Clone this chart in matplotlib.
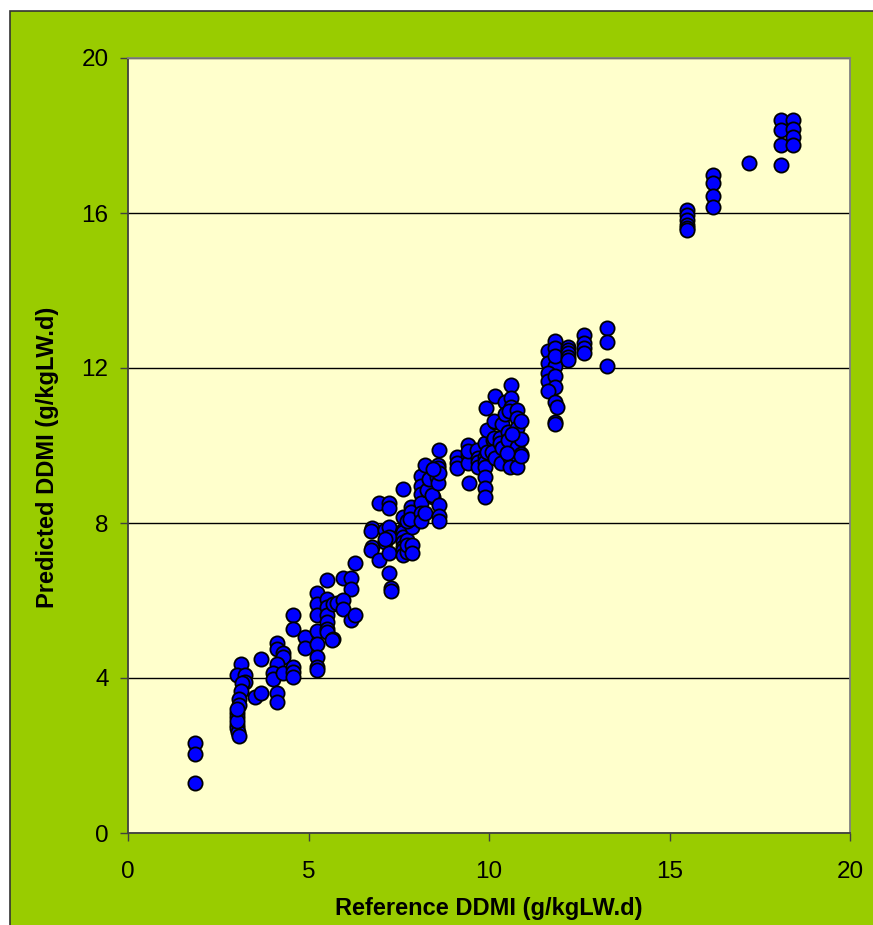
#!/usr/bin/env python3

import numpy as np
import matplotlib.pyplot as plt
from matplotlib.patches import Rectangle

plt.rcParams.update({"font.family": ["Liberation Sans", "DejaVu Sans"]})

# Reference vs predicted daily digestible dry matter intake, grouped by
# reference level (one line per cluster)
reference = [
    1.86, 1.86, 1.86,
    3.13, 3.02, 3.24, 3.24, 3.16, 3.13, 3.08, 3.08, 3.02, 3.02, 3.02, 3.02, 3.05, 3.08, 3.02, 3.02,
    3.68, 3.51, 3.68,
    4.13, 4.13, 4.29, 4.29, 4.13, 4.02, 4.02, 4.29, 4.13, 4.13,
    4.57, 4.57, 4.57, 4.57, 4.57,
    4.90, 4.90,
    5.23, 5.23, 5.23, 5.23, 5.23, 5.23, 5.23, 5.23,
    5.50, 5.50, 5.50, 5.50, 5.50, 5.50, 5.50, 5.68, 5.64, 5.68, 5.80,
    5.96, 6.18, 6.18, 5.96, 5.96, 6.18, 6.29, 6.29,
    6.76, 6.73, 6.76, 6.73, 6.95, 7.23, 7.23, 6.95, 7.12, 7.12, 7.23, 7.23, 7.23, 7.23, 7.29, 7.29, 7.12,
    7.62, 7.62, 7.62, 7.62, 7.62, 7.62, 7.62, 7.62, 7.62, 7.73, 7.73, 7.73, 7.84, 7.84, 7.87, 7.87, 7.87,
    7.73, 7.80,
    8.12, 8.12, 8.12, 8.12, 8.12, 8.12, 8.23, 8.23, 8.28, 8.45, 8.42, 8.34, 8.61, 8.58, 8.58, 8.56, 8.58,
    8.61, 8.61, 8.61, 8.61, 8.45,
    9.11, 9.11, 9.11, 9.42, 9.42, 9.42, 9.45, 9.42, 9.67, 9.70, 9.70, 9.70, 9.89, 9.89, 9.89, 9.89, 9.89,
    9.89, 9.89, 9.92, 9.95, 9.95,
    10.17, 10.17, 10.14, 10.11, 10.14, 10.08, 10.17, 10.30, 10.30, 10.36, 10.36, 10.33, 10.44, 10.44,
    10.53, 10.53, 10.58, 10.58, 10.61, 10.61, 10.61, 10.55, 10.78, 10.78, 10.78, 10.78, 10.78, 10.89,
    10.89, 10.89, 10.89, 10.65, 10.50,
    11.63, 11.83, 11.83, 11.63, 11.83, 11.83, 11.63, 11.63, 11.83, 11.83, 11.63, 11.83, 11.88, 11.83, 11.83,
    12.20, 12.20, 12.20, 12.20, 12.20,
    12.63, 12.63, 12.63, 12.63,
    13.27, 13.27, 13.27,
    15.48, 15.48, 15.48, 15.48, 15.48, 15.48,
    16.20, 16.20, 16.20, 16.20,
    17.20,
    18.09, 18.09, 18.09, 18.09,
    18.42, 18.42, 18.42, 18.42,
]
predicted = [
    2.32, 2.05, 1.29,
    4.36, 4.08, 4.08, 3.90, 3.87, 3.66, 3.46, 3.30, 3.10, 3.00, 2.79, 2.70, 2.61, 2.50, 2.88, 3.20,
    4.49, 3.51, 3.61,
    4.90, 4.75, 4.64, 4.54, 4.36, 4.13, 3.97, 4.13, 3.61, 3.38,
    5.63, 5.26, 4.28, 4.16, 4.03,
    5.06, 4.77,
    6.19, 5.91, 5.63, 5.21, 4.88, 4.54, 4.28, 4.20,
    6.53, 6.04, 5.83, 5.63, 5.45, 5.26, 5.19, 5.01, 4.98, 5.91, 5.94,
    6.58, 6.58, 6.30, 6.01, 5.78, 5.50, 5.63, 6.97,
    7.87, 7.79, 7.38, 7.30, 8.52, 8.52, 8.39, 7.05, 7.82, 7.51, 7.90, 7.64, 7.23, 6.71, 6.32, 6.25, 7.60,
    8.88, 8.15, 7.82, 7.77, 7.64, 7.51, 7.38, 7.30, 7.17, 7.56, 7.25, 7.43, 8.41, 8.28, 7.90, 7.43, 7.23,
    8.05, 8.10,
    9.21, 8.95, 8.75, 8.52, 8.26, 8.05, 9.50, 8.26, 8.85, 8.67, 8.72, 9.14, 9.88, 9.50, 9.42, 9.19, 9.03,
    8.46, 8.18, 8.05, 9.29, 9.40,
    9.70, 9.55, 9.42, 10.01, 9.75, 9.55, 9.03, 9.85, 9.88, 9.68, 9.57, 9.45, 10.06, 9.70, 9.57, 9.45, 9.19,
    8.90, 8.67, 10.97, 10.40, 9.83,
    11.28, 10.60, 10.63, 10.14, 10.19, 9.83, 9.68, 10.19, 10.06, 10.55, 9.94, 9.55, 11.12, 10.81,
    10.35, 10.14, 9.68, 9.45, 11.56, 11.23, 11.00, 10.90, 10.92, 10.71, 10.45, 9.96, 9.45, 10.63,
    10.17, 9.78, 9.73, 10.30, 9.80,
    12.44, 12.70, 12.52, 12.13, 12.05, 12.31, 11.87, 11.66, 11.80, 11.50, 11.40, 11.12, 11.00, 10.60, 10.55,
    12.54, 12.46, 12.39, 12.28, 12.20,
    12.85, 12.65, 12.52, 12.39,
    13.03, 12.67, 12.05,
    16.08, 15.95, 15.82, 15.69, 15.61, 15.56,
    16.98, 16.77, 16.44, 16.15,
    17.29,
    18.40, 18.14, 17.75, 17.24,
    18.40, 18.17, 17.96, 17.75,
]
x_ticks = [0, 5, 10, 15, 20]
y_ticks = [0, 4, 8, 12, 16, 20]


def main():
    W, H = 873, 925
    fig = plt.figure(figsize=(W / 100, H / 100), dpi=100, facecolor='white')

    # Green chart area; its frame only shows on the top and left edges
    fig.add_artist(Rectangle((10 / W, -0.05), 1.1, 1.05 - 11 / H,
                             transform=fig.transFigure, facecolor='#99CC00',
                             edgecolor='#333333', linewidth=1.2, zorder=-5))

    ax = fig.add_axes([128 / W, (H - 833) / H, (850 - 128) / W, (833 - 58) / H])
    ax.set_facecolor('#FFFFCC')

    ax.scatter(reference, predicted, s=105, c='#0000FF', edgecolors='black',
               linewidths=1.3, zorder=3, clip_on=False)

    ax.set_xlim(0, 20)
    ax.set_ylim(0, 20)
    ax.set_xticks(x_ticks)
    ax.set_yticks(y_ticks)
    ax.grid(axis='y', color='black', linewidth=1.0)
    ax.set_axisbelow(True)

    for side in ('left', 'bottom'):
        ax.spines[side].set_color('#404040')
        ax.spines[side].set_linewidth(1.3)
    for side in ('top', 'right'):
        ax.spines[side].set_color('#808080')
        ax.spines[side].set_linewidth(1.3)

    ax.tick_params(axis='both', direction='out', length=6, width=1.0,
                   color='#404040', labelsize=17.5)
    ax.tick_params(axis='x', pad=14)
    ax.tick_params(axis='y', pad=8)

    ax.set_xlabel('Reference DDMI (g/kgLW.d)', fontsize=17, fontweight='bold',
                  labelpad=10)
    ax.set_ylabel('Predicted DDMI (g/kgLW.d)', fontsize=17, fontweight='bold',
                  labelpad=16)
    ax.yaxis.label.set_y(0.485)

    fig.savefig('out.png', dpi=100, facecolor=fig.get_facecolor())


if __name__ == "__main__":
    main()
